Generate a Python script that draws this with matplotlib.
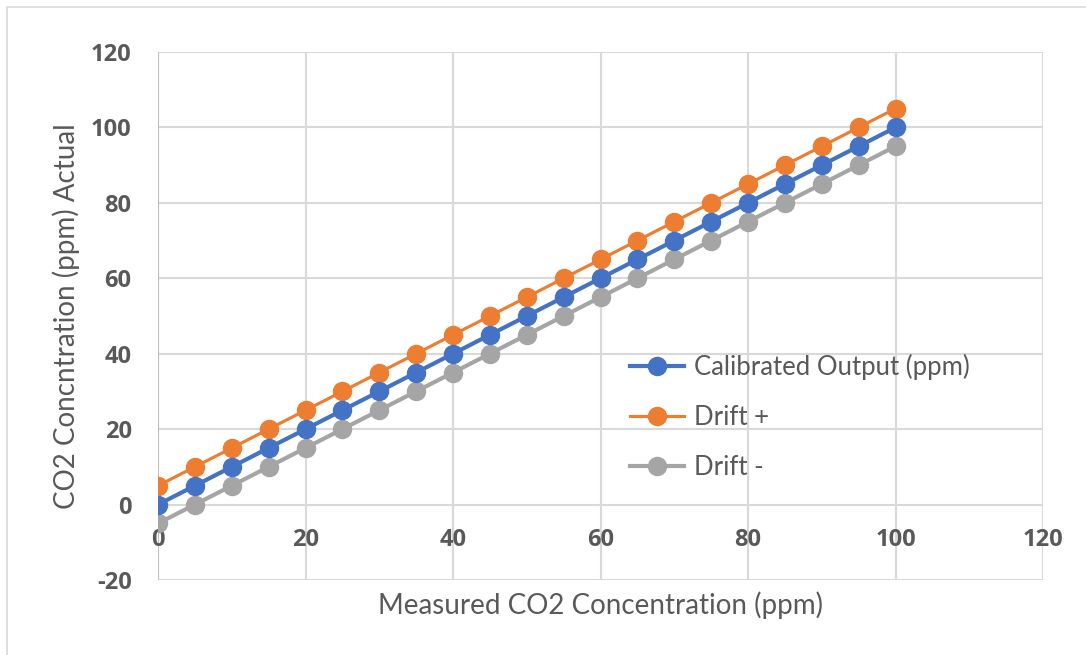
import matplotlib
matplotlib.use("Agg")
import matplotlib.pyplot as plt
from matplotlib.patches import Rectangle

measured = [0, 5, 10, 15, 20, 25, 30, 35, 40, 45, 50, 55, 60, 65, 70, 75, 80, 85, 90, 95, 100]
calibrated = [0, 5, 10, 15, 20, 25, 30, 35, 40, 45, 50, 55, 60, 65, 70, 75, 80, 85, 90, 95, 100]
drift_plus = [5, 10, 15, 20, 25, 30, 35, 40, 45, 50, 55, 60, 65, 70, 75, 80, 85, 90, 95, 100, 105]
drift_minus = [-5, 0, 5, 10, 15, 20, 25, 30, 35, 40, 45, 50, 55, 60, 65, 70, 75, 80, 85, 90, 95]
x_ticks = [0, 20, 40, 60, 80, 100, 120]
y_ticks = [-20, 0, 20, 40, 60, 80, 100, 120]

plt.rcParams['font.family'] = ['Lato', 'DejaVu Sans']
plt.rcParams['axes.unicode_minus'] = False
txt = '#595959'
grid = '#D9D9D9'
tick_font = ['Open Sans', 'DejaVu Sans']

W, H = 1086, 655
fig = plt.figure(figsize=(W / 100, H / 100), dpi=100)
fig.patches.append(Rectangle((7 / W, -0.1), 1.2, 1 - 7 / H + 0.1, transform=fig.transFigure,
                             fill=False, edgecolor='#D9D9D9', linewidth=1.2))

ax = fig.add_axes([158 / W, 1 - 580 / H, (1043 - 158) / W, (580 - 52) / H])
ax.set_xlim(0, 120)
ax.set_ylim(-20, 120)
ax.set_xticks(x_ticks)
ax.set_yticks(y_ticks)
ax.grid(True, color=grid, linewidth=1.5)
ax.set_axisbelow(True)
for s in ax.spines.values():
    s.set_visible(False)
ax.axvline(0, color='#BFBFBF', linewidth=1.5, zorder=1)
ax.tick_params(length=0)
ax.set_yticklabels([str(v) for v in y_ticks], fontsize=17, fontweight='bold', color=txt, family=tick_font)
ax.tick_params(axis='y', pad=19)
ax.set_xticklabels([])
for xv in x_ticks:
    ax.text(xv, -6.3, str(xv), ha='center', va='top', fontsize=17, fontweight='bold',
            color=txt, family=tick_font)

ms = 13
ax.plot(measured, calibrated, color='#4472C4', linewidth=3, marker='o', markersize=ms,
        label='Calibrated Output (ppm)', zorder=4)
ax.plot(measured, drift_plus, color='#ED7D31', linewidth=2.25, marker='o', markersize=ms,
        label='Drift +', zorder=3)
ax.plot(measured, drift_minus, color='#A5A5A5', linewidth=3, marker='o', markersize=ms,
        label='Drift -', zorder=3)

leg = ax.legend(loc='upper left', bbox_to_anchor=((630 - 158) / (1043 - 158), (580 - 354) / (580 - 52)),
                frameon=False, fontsize=18.5, labelcolor=txt, handlelength=2.1, handletextpad=0.4,
                labelspacing=0.98, borderaxespad=0, borderpad=0)

ax.set_xlabel('Measured CO2 Concentration (ppm)', fontsize=20, color=txt, va='center')
ax.xaxis.set_label_coords(0.5, (580 - 605) / (580 - 52))
ax.set_ylabel('CO2 Concntration (ppm) Actual', fontsize=20, color=txt, va='center')
ax.yaxis.set_label_coords((66 - 158) / (1043 - 158), 0.5)

fig.savefig('out.png', dpi=100)
